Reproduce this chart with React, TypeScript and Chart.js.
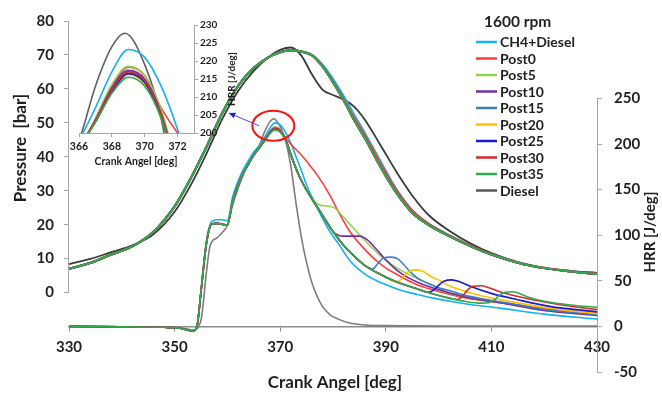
import React, { useEffect, useRef } from 'react';
import { Chart, registerables } from 'chart.js';

Chart.register(...registerables);

const FONT = 'Lato, "Open Sans", "DejaVu Sans", sans-serif';
const TEXT = '#1f1f1f';
Chart.defaults.font.family = FONT;

// ---------- labels / legend ----------
const legendTitle = '1600 rpm';
const seriesNames = ['CH4+Diesel', 'Post0', 'Post5', 'Post10', 'Post15', 'Post20', 'Post25', 'Post30', 'Post35', 'Diesel'];
const seriesColors = ['#12B2F0', '#FF3B3B', '#92D050', '#7030A0', '#3C7DC4', '#FFC000', '#1A1AD0', '#D42A2A', '#2EAA4F', '#595959'];
const dieselPressureColor = '#3a3a3a';
const dieselHrrColor = '#7c7c7c';

// ---------- ticks ----------
const pressureTicks = [0, 10, 20, 30, 40, 50, 60, 70, 80];
const hrrTicks = [-50, 0, 50, 100, 150, 200, 250];
const angleTicks = [330, 350, 370, 390, 410, 430];
const insetAngleTicks = [366, 368, 370, 372];
const insetHrrTicks = [200, 205, 210, 215, 220, 225, 230];

// ---------- pressure [bar] ----------
const pressureAngles = [330, 334, 338, 342, 346, 350, 353, 356, 359, 362, 365, 368, 370, 372, 374, 376, 378, 380, 382, 384, 386, 389, 392, 395, 398, 402, 406, 410, 415, 420, 425, 430];
const pressurePost = [7.0, 8.7, 11.2, 13.6, 17.9, 25.4, 33.5, 42.8, 52.8, 60.8, 66.2, 69.5, 70.8, 71.4, 71.0, 69.9, 66.6, 62.0, 56.7, 50.8, 45.6, 37.0, 29.4, 23.5, 20.0, 16.6, 13.7, 11.2, 8.8, 7.2, 6.2, 5.5];
const pressurePost0 = [7.0, 8.7, 11.2, 13.6, 17.9, 25.4, 33.5, 42.8, 52.8, 60.8, 66.2, 69.5, 70.8, 71.4, 71.0, 69.9, 66.7, 62.3, 57.2, 51.6, 46.5, 38.0, 30.2, 24.2, 20.4, 16.9, 13.9, 11.3, 8.9, 7.3, 6.3, 5.6];
const pressureCH4 = [7.0, 8.7, 11.2, 13.6, 17.9, 25.4, 33.5, 42.8, 52.8, 60.8, 66.2, 69.5, 70.8, 71.4, 71.1, 70.1, 67.2, 63.0, 58.0, 52.5, 47.2, 38.8, 30.6, 24.4, 20.5, 16.9, 13.8, 11.2, 8.8, 7.2, 6.2, 5.4];
const pressureDiesel = [8.4, 9.9, 11.9, 13.9, 17.2, 23.8, 31.5, 40.8, 51.0, 59.3, 65.3, 69.6, 71.5, 72.2, 69.8, 64.3, 59.8, 58.2, 56.9, 54.8, 51.0, 43.4, 35.6, 28.6, 23.0, 18.2, 14.5, 11.6, 9.0, 7.3, 6.4, 5.8];

// ---------- HRR [J/deg] ----------
const hrrCH4Angles = [330, 340, 348, 351, 352.5, 353.5, 354.2, 355, 356, 357, 358, 359, 360, 361, 362, 363, 364, 365, 366, 367, 368, 369, 370, 371, 372, 373, 374, 375, 377, 379.4, 381, 383.2, 386.4, 389.5, 392.7, 396, 399, 402.2, 405.3, 411.6, 420, 430];
const hrrCH4 = [0, -0.5, -1, -2, -4, -5, -1, 40, 93, 115, 117, 117, 116, 142, 159, 172, 182, 191, 198, 207, 217, 223.2, 221, 213, 201, 186, 171, 155, 130, 104, 91, 72, 56, 47, 40, 35, 31, 27.5, 24.6, 20, 13.5, 8];

const hrrPost0Angles = [330, 340, 348, 351, 352.5, 353.5, 354.2, 355, 356, 357, 358, 359, 360, 361, 362, 363, 364, 365, 366, 367, 368, 369, 370, 371, 372, 373, 374, 375, 376.9, 379.4, 381, 383.2, 386.4, 389.5, 392.7, 395.8, 399, 402.2, 405.3, 411.6, 420, 430];
const hrrPost0 = [0, -0.5, -1, -2, -4, -5, -1, 38, 90, 112, 113, 112, 111, 138, 155, 168, 178, 188, 195, 204, 213, 218.3, 216, 207, 200, 194, 188, 181, 167, 144, 126, 104, 82, 66, 55, 46, 40, 35, 31, 26, 19.5, 15];

const hrrPost5Angles = [330, 340, 348, 351, 352.5, 353.5, 354.2, 355, 356, 357, 358, 359, 360, 361, 362, 363, 364, 365, 366, 367, 368, 369, 370, 371, 372, 373, 374, 375, 376.5, 377.5, 379, 380.3, 381.5, 383.2, 386.4, 389.5, 392.7, 395.8, 399, 402.2, 405.3, 411.6, 420, 430];
const hrrPost5 = [0, -0.5, -1, -2, -4, -5, -1, 38, 90, 112, 113, 112, 111, 138, 155, 168, 178, 188, 195, 204, 213.5, 218.5, 216, 206.5, 190, 174, 160, 149, 137, 133, 132, 130, 123, 112, 92, 75, 62, 53, 45, 36, 32, 26.5, 17.5, 12.5];

const hrrPost10Angles = [330, 340, 348, 351, 352.5, 353.5, 354.2, 355, 356, 357, 358, 359, 360, 361, 362, 363, 364, 365, 366, 367, 368, 369, 370, 371, 372, 373, 374, 376, 378, 380, 381, 382, 383.5, 385, 386.5, 388, 390, 392.7, 395.8, 399, 402.2, 405.3, 411.6, 420, 430];
const hrrPost10 = [0, -0.5, -1, -2, -4, -5, -1, 38, 90, 112, 113, 112, 111, 138, 155, 168, 178, 188, 195, 203.5, 212.5, 217.4, 215, 205.5, 189, 173, 160, 140, 122, 104, 100, 99, 99, 99, 95, 86, 73, 59, 49, 42, 36.5, 32, 26, 17.5, 12];

const hrrPost15Angles = [330, 340, 348, 351, 352.5, 353.5, 354.2, 355, 356, 357, 358, 359, 360, 361, 362, 363, 364, 365, 366, 367, 368, 369, 370, 371, 372, 373, 374, 376, 378, 380, 382, 384, 386, 387.5, 388.5, 389.5, 391, 392.3, 393.5, 394.6, 396, 397.8, 400, 402.2, 405, 408.5, 411.6, 414.8, 420, 430];
const hrrPost15 = [0, -0.5, -1, -2, -4, -5, -1, 38, 90, 112, 113, 112, 111, 138, 155, 168, 178, 188, 196, 203.5, 212, 217, 214.5, 205, 188.5, 173, 160, 140, 122, 104, 89, 77, 67, 63, 69, 75, 76, 74, 67, 60, 53, 47.5, 42.5, 39, 34, 30, 27, 24, 18.5, 13];

const hrrPost20Angles = [330, 340, 348, 351, 352.5, 353.5, 354.2, 355, 356, 357, 358, 359, 360, 361, 362, 363, 364, 365, 366, 367, 368, 369, 370, 371, 372, 373, 374, 376, 378, 380, 382, 384, 386, 389, 392, 393, 394, 395.5, 397, 398.5, 400.3, 402.2, 405.3, 408.5, 414.8, 421, 430];
const hrrPost20 = [0, -0.5, -1, -2, -4, -5, -1, 38, 90, 112, 113, 112, 111, 138, 155, 168, 178, 188, 196, 203, 211.5, 216.2, 213.7, 204.5, 188, 173, 160, 140, 122, 104, 89, 77, 67, 57, 49, 52, 59, 62, 60.5, 55, 50, 44, 38, 33, 26, 20, 14];

const hrrPost25Angles = [330, 340, 348, 351, 352.5, 353.5, 354.2, 355, 356, 357, 358, 359, 360, 361, 362, 363, 364, 365, 366, 367, 368, 369, 370, 371, 372, 373, 374, 376, 378, 380, 382, 384, 386, 389, 392, 396, 398, 399, 400, 401, 402.5, 404, 406, 409.8, 414.8, 421, 430];
const hrrPost25 = [0, -0.5, -1, -2, -4, -5, -1, 38, 90, 112, 113, 112, 111, 138, 155, 168, 178, 188, 196, 203, 211.5, 216.5, 214, 204.5, 188, 173, 160, 140, 122, 104, 89, 77, 67, 57, 49, 41, 37.5, 39.5, 45, 49.5, 51, 49, 44, 36.5, 29.5, 22, 16];

const hrrPost30Angles = [330, 340, 348, 351, 352.5, 353.5, 354.2, 355, 356, 357, 358, 359, 360, 361, 362, 363, 364, 365, 366, 367, 368, 369, 370, 371, 372, 373, 374, 376, 378, 380, 382, 384, 386, 389, 392, 396, 399, 402, 403.5, 404.5, 405.5, 406.5, 408, 409.5, 411.6, 414.8, 418, 424, 430];
const hrrPost30 = [0, -0.5, -1, -2, -4, -5, -1, 38, 90, 112, 113, 112, 111, 138, 155, 168, 178, 188, 196, 203.5, 212, 217, 214.5, 205, 189, 173, 160, 140, 122, 104, 89, 77, 67, 57, 49, 41, 35.5, 31, 29.5, 33, 40, 44, 44.5, 42.5, 38, 33, 29, 23, 18.5];

const hrrPost35Angles = [330, 340, 348, 351, 352.5, 353.5, 354.2, 355, 356, 357, 358, 359, 360, 361, 362, 363, 364, 365, 366, 367, 368, 369, 370, 371, 372, 373, 374, 376, 378, 380, 382, 384, 386, 389, 392, 396, 399, 402, 405, 408, 409.5, 410.5, 411.5, 412.5, 414, 417, 420, 425, 430];
const hrrPost35 = [0, -0.5, -1, -2, -4, -5, -1, 38, 90, 112, 113, 112, 111, 138, 155, 168, 178, 188, 196, 203, 211, 215.5, 213, 204, 188, 173, 160, 140, 122, 104, 89, 77, 67, 57, 49, 41, 35.5, 31, 27.5, 25.5, 26, 29, 34, 37.5, 38, 32, 27.5, 23.5, 21];

const hrrDieselAngles = [330, 340, 348, 351, 352.5, 353.5, 354.5, 355.1, 356.1, 356.7, 358, 359.2, 360, 361, 362, 363, 364, 365, 366, 367, 368, 368.8, 370, 371, 372, 373, 374, 375, 376, 377, 378, 379.4, 381, 383, 386, 390, 400, 430];
const hrrDiesel = [0, -0.3, -0.8, -1.5, -3, -4, -1, 9.5, 63, 88, 97, 104, 111, 133, 151, 166, 180, 191, 198, 213, 224, 227.7, 219, 204, 176, 135, 98, 70, 48, 33, 22, 13, 8, 4, 1.5, 0.8, 0.5, 0.5];

const pts = (a: number[], v: number[]) => a.map((x, i) => ({ x, y: v[i] }));

const tickFont = (size: number) => ({ family: FONT, size, weight: 'bold' as const });

function line(label: string, color: string, a: number[], v: number[], axis: string, width: number) {
  return {
    label,
    data: pts(a, v),
    borderColor: color,
    backgroundColor: color,
    borderWidth: width,
    pointRadius: 0,
    fill: false,
    cubicInterpolationMode: 'monotone' as const,
    yAxisID: axis,
  };
}

function hrrSets(width: number, dieselColor: string) {
  return [
    line('Post35', seriesColors[8], hrrPost35Angles, hrrPost35, 'y', width),
    line('Post30', seriesColors[7], hrrPost30Angles, hrrPost30, 'y', width),
    line('Post25', seriesColors[6], hrrPost25Angles, hrrPost25, 'y', width),
    line('Post20', seriesColors[5], hrrPost20Angles, hrrPost20, 'y', width),
    line('Post15', seriesColors[4], hrrPost15Angles, hrrPost15, 'y', width),
    line('Post10', seriesColors[3], hrrPost10Angles, hrrPost10, 'y', width),
    line('Post5', seriesColors[2], hrrPost5Angles, hrrPost5, 'y', width),
    line('Post0', seriesColors[1], hrrPost0Angles, hrrPost0, 'y', width),
    line('CH4+Diesel', seriesColors[0], hrrCH4Angles, hrrCH4, 'y', width),
    line('Diesel', dieselColor, hrrDieselAngles, hrrDiesel, 'y', width),
  ];
}

const mainDecor = {
  id: 'mainDecor',
  beforeDatasetsDraw(chart: any) {
    const { ctx, chartArea } = chart;
    const yP = chart.scales.yP;
    const yH = chart.scales.y;
    ctx.save();
    ctx.strokeStyle = '#a6a6a6';
    ctx.lineWidth = 1;
    ctx.beginPath();
    const lx = Math.round(chartArea.left) - 0.5;
    ctx.moveTo(lx, yP.getPixelForValue(pressureTicks[0]));
    ctx.lineTo(lx, yP.getPixelForValue(pressureTicks[pressureTicks.length - 1]));
    const rx = Math.round(chartArea.right) + 0.5;
    ctx.moveTo(rx, yH.getPixelForValue(hrrTicks[0]));
    ctx.lineTo(rx, yH.getPixelForValue(hrrTicks[hrrTicks.length - 1]));
    ctx.stroke();
    ctx.restore();
  },
  afterDraw(chart: any) {
    const { ctx } = chart;
    const xs = chart.scales.x;
    const yH = chart.scales.y;
    ctx.save();
    ctx.fillStyle = TEXT;
    // axis titles
    ctx.textAlign = 'center';
    ctx.textBaseline = 'middle';
    ctx.font = `bold 17px ${FONT}`;
    ctx.save();
    ctx.translate(21, 148);
    ctx.rotate(-Math.PI / 2);
    ctx.fillText('Pressure  [bar]', 0, 0);
    ctx.restore();
    ctx.font = `bold 15px ${FONT}`;
    ctx.save();
    ctx.translate(650, 232);
    ctx.rotate(-Math.PI / 2);
    ctx.fillText('HRR [J/deg]', 0, 0);
    ctx.restore();
    ctx.font = `bold 17px ${FONT}`;
    ctx.fillText('Crank Angel [deg]', 335, 383);

    // legend
    ctx.textAlign = 'left';
    ctx.font = `bold 15.5px ${FONT}`;
    ctx.fillText(legendTitle, 484, 22);
    ctx.font = `bold 14px ${FONT}`;
    seriesNames.forEach((name, i) => {
      const y = 42 + i * 16.5;
      ctx.strokeStyle = seriesColors[i];
      ctx.lineWidth = 2.5;
      ctx.beginPath();
      ctx.moveTo(476, y);
      ctx.lineTo(497, y);
      ctx.stroke();
      ctx.fillStyle = TEXT;
      ctx.fillText(name, 500, y + 0.5);
    });

    // highlight ellipse around the HRR peak and arrow towards the zoomed inset
    const cx = xs.getPixelForValue(368.7);
    const cy = yH.getPixelForValue(220);
    ctx.strokeStyle = '#FF1010';
    ctx.lineWidth = 2;
    ctx.beginPath();
    ctx.ellipse(cx, cy, 21, 15, 0, 0, Math.PI * 2);
    ctx.stroke();

    const ax0 = xs.getPixelForValue(366);
    const ay0 = yH.getPixelForValue(220);
    const ax1 = xs.getPixelForValue(360.3);
    const ay1 = yH.getPixelForValue(234);
    ctx.strokeStyle = '#4a4ae8';
    ctx.fillStyle = '#2020d0';
    ctx.lineWidth = 1;
    ctx.beginPath();
    ctx.moveTo(ax0, ay0);
    ctx.lineTo(ax1, ay1);
    ctx.stroke();
    const ang = Math.atan2(ay1 - ay0, ax1 - ax0);
    ctx.beginPath();
    ctx.moveTo(ax1, ay1);
    ctx.lineTo(ax1 - 7 * Math.cos(ang - 0.45), ay1 - 7 * Math.sin(ang - 0.45));
    ctx.lineTo(ax1 - 7 * Math.cos(ang + 0.45), ay1 - 7 * Math.sin(ang + 0.45));
    ctx.closePath();
    ctx.fill();
    ctx.restore();
  },
};

const insetDecor = {
  id: 'insetDecor',
  afterDraw(chart: any) {
    const { ctx } = chart;
    ctx.save();
    ctx.fillStyle = TEXT;
    ctx.textAlign = 'center';
    ctx.textBaseline = 'middle';
    ctx.font = `bold 10.5px ${FONT}`;
    ctx.fillText('Crank Angel [deg]', 76, 152);
    ctx.font = `bold 10px ${FONT}`;
    ctx.translate(172, 69);
    ctx.rotate(-Math.PI / 2);
    ctx.fillText('HRR [J/deg]', 0, 0);
    ctx.restore();
  },
};

export default function App() {
  const mainRef = useRef<HTMLCanvasElement>(null);
  const insetRef = useRef<HTMLCanvasElement>(null);

  useEffect(() => {
    const pressureSets = [
      line('Post35', seriesColors[8], pressureAngles, pressurePost, 'yP', 2),
      line('Post30', seriesColors[7], pressureAngles, pressurePost, 'yP', 2),
      line('Post25', seriesColors[6], pressureAngles, pressurePost, 'yP', 2),
      line('Post20', seriesColors[5], pressureAngles, pressurePost, 'yP', 2),
      line('Post15', seriesColors[4], pressureAngles, pressurePost, 'yP', 2),
      line('Post10', seriesColors[3], pressureAngles, pressurePost, 'yP', 2),
      line('Post5', seriesColors[2], pressureAngles, pressurePost, 'yP', 2),
      line('Post0', seriesColors[1], pressureAngles, pressurePost0, 'yP', 2),
      line('CH4+Diesel', seriesColors[0], pressureAngles, pressureCH4, 'yP', 1.8),
      line('Diesel', dieselPressureColor, pressureAngles, pressureDiesel, 'yP', 1.8),
    ];

    const main = new Chart(mainRef.current as HTMLCanvasElement, {
      type: 'line',
      data: { datasets: [...pressureSets, ...hrrSets(1.6, dieselHrrColor)] as any },
      options: {
        responsive: false,
        maintainAspectRatio: false,
        animation: false,
        devicePixelRatio: 1,
        events: [],
        layout: { padding: { left: 0, right: 0, top: 14, bottom: 25 } },
        plugins: { legend: { display: false }, tooltip: { enabled: false }, title: { display: false } },
        scales: {
          x: {
            type: 'linear',
            min: 330,
            max: 430,
            position: { y: 0 } as any,
            afterBuildTicks: (s: any) => { s.ticks = angleTicks.map((v) => ({ value: v })); },
            ticks: { font: tickFont(15), color: TEXT, padding: 8, maxRotation: 0, autoSkip: false },
            grid: { display: true, drawOnChartArea: false, drawTicks: true, tickLength: 4, color: '#8c8c8c' },
            border: { display: true, color: '#8c8c8c', width: 1.5 },
          },
          yP: {
            type: 'linear',
            position: 'left',
            min: -23.4,
            max: 80,
            afterBuildTicks: (s: any) => { s.ticks = pressureTicks.map((v) => ({ value: v })); },
            afterFit: (s: any) => { s.width = 69; },
            ticks: { font: tickFont(15), color: TEXT, padding: 10 },
            grid: { display: true, drawOnChartArea: false, drawTicks: true, tickLength: 5, color: '#a6a6a6' },
            border: { display: false },
          },
          y: {
            type: 'linear',
            position: 'right',
            min: -50,
            max: 334.9,
            afterBuildTicks: (s: any) => { s.ticks = hrrTicks.map((v) => ({ value: v })); },
            afterFit: (s: any) => { s.width = 65; },
            ticks: { font: tickFont(15), color: TEXT, padding: 12 },
            grid: { display: true, drawOnChartArea: false, drawTicks: true, tickLength: 5, color: '#a6a6a6' },
            border: { display: false },
          },
        },
      } as any,
      plugins: [mainDecor],
    });

    const inset = new Chart(insetRef.current as HTMLCanvasElement, {
      type: 'line',
      data: { datasets: hrrSets(1.6, '#5f5f5f') as any },
      options: {
        responsive: false,
        maintainAspectRatio: false,
        animation: false,
        devicePixelRatio: 1,
        events: [],
        layout: { padding: { left: 19, right: 0, top: 15, bottom: 0 } },
        plugins: { legend: { display: false }, tooltip: { enabled: false }, title: { display: false } },
        scales: {
          x: {
            type: 'linear',
            position: 'bottom',
            min: 366,
            max: 373,
            afterBuildTicks: (s: any) => { s.ticks = insetAngleTicks.map((v) => ({ value: v })); },
            afterFit: (s: any) => { s.height = 42; },
            ticks: { font: tickFont(10.5), color: TEXT, padding: 3, maxRotation: 0, autoSkip: false },
            grid: { display: true, drawOnChartArea: false, drawTicks: true, tickLength: 4, color: '#a6a6a6' },
            border: { display: true, color: '#a6a6a6', width: 1 },
          },
          y: {
            type: 'linear',
            position: 'right',
            min: 200,
            max: 230,
            afterBuildTicks: (s: any) => { s.ticks = insetHrrTicks.map((v) => ({ value: v })); },
            afterFit: (s: any) => { s.width = 56; },
            ticks: { font: tickFont(10), color: TEXT, padding: 2 },
            grid: { display: true, drawOnChartArea: false, drawTicks: true, tickLength: 4, color: '#a6a6a6' },
            border: { display: true, color: '#a6a6a6', width: 1 },
          },
        },
      } as any,
      plugins: [insetDecor],
    });

    return () => {
      main.destroy();
      inset.destroy();
    };
  }, []);

  return (
    <div style={{ position: 'absolute', left: 0, top: 0, width: 662, height: 397, background: '#fff' }}>
      <canvas ref={mainRef} width={662} height={397} style={{ position: 'absolute', left: 0, top: 0 }} />
      <canvas ref={insetRef} width={190} height={165} style={{ position: 'absolute', left: 60, top: 10 }} />
    </div>
  );
}
